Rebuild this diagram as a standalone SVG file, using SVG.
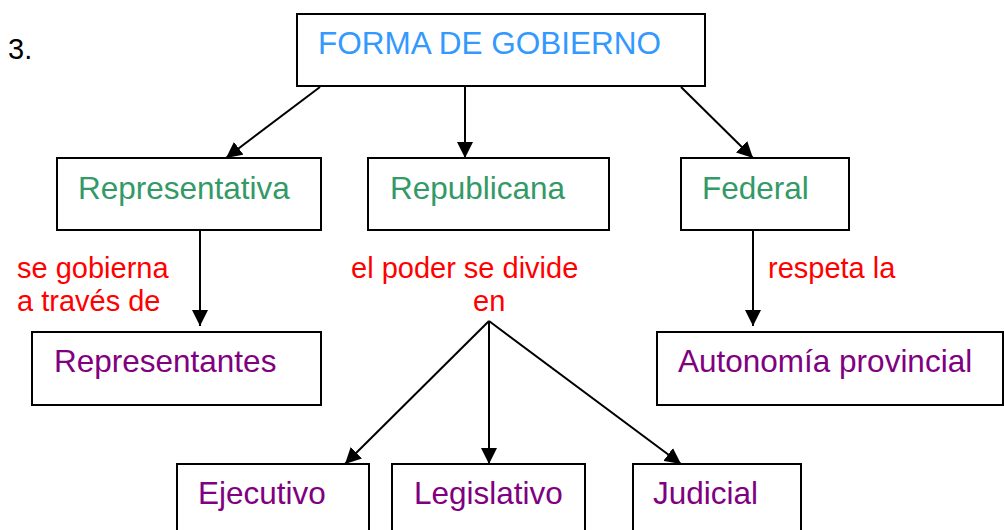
<svg xmlns="http://www.w3.org/2000/svg" width="1004" height="530" viewBox="0 0 1004 530">
<defs>
<style>
.box{fill:#fff;stroke:#000;stroke-width:2}
.t{font-family:"Liberation Sans",Arial,sans-serif;font-size:31.5px}
.blue{fill:#3399FF}
.green{fill:#339966}
.purple{fill:#800080}
.lbl{font-family:"Liberation Sans",Arial,sans-serif;font-size:29px;fill:#FF0000}
.c{fill:none;stroke:#000;stroke-width:2}
</style>
<marker id="ah" viewBox="0 0 16 16" refX="16" refY="8" markerWidth="16" markerHeight="16" markerUnits="userSpaceOnUse" orient="auto">
<path d="M0,0 L16,8 L0,16 Z" fill="#000"/>
</marker>
</defs>
<rect width="1004" height="530" fill="#fff"/>
<text x="8" y="59" style="font-family:'Liberation Sans',Arial,sans-serif;font-size:29px" fill="#000">3.</text>

<g id="connectors">
<line class="c" x1="320" y1="87" x2="226" y2="158" marker-end="url(#ah)"/>
<line class="c" x1="465" y1="87" x2="465" y2="158" marker-end="url(#ah)"/>
<line class="c" x1="681" y1="87" x2="753" y2="158" marker-end="url(#ah)"/>
<line class="c" x1="200" y1="231" x2="200" y2="326" marker-end="url(#ah)"/>
<line class="c" x1="753" y1="231" x2="753" y2="326" marker-end="url(#ah)"/>
<line class="c" x1="489" y1="321" x2="345" y2="464" marker-end="url(#ah)"/>
<line class="c" x1="489" y1="321" x2="489" y2="464" marker-end="url(#ah)"/>
<line class="c" x1="489" y1="321" x2="681" y2="464" marker-end="url(#ah)"/>
<text class="lbl" x="17" y="278">se gobierna</text>
<text class="lbl" x="17" y="311">a través de</text>
<text class="lbl" x="351" y="278">el poder se divide</text>
<text class="lbl" x="473" y="311">en</text>
<text class="lbl" x="768" y="278">respeta la</text>
</g>

<g id="n-forma">
<rect class="box" x="297" y="14" width="408" height="72"/>
<text class="t blue" x="318" y="54">FORMA DE GOBIERNO</text>
</g>
<g id="n-representativa">
<rect class="box" x="57" y="158" width="264" height="72"/>
<text class="t green" x="78" y="199">Representativa</text>
</g>
<g id="n-republicana">
<rect class="box" x="368" y="158" width="241" height="72"/>
<text class="t green" x="390" y="199">Republicana</text>
</g>
<g id="n-federal">
<rect class="box" x="681" y="158" width="168" height="72"/>
<text class="t green" x="702" y="199">Federal</text>
</g>
<g id="n-representantes">
<rect class="box" x="32" y="332" width="289" height="73"/>
<text class="t purple" x="54" y="372">Representantes</text>
</g>
<g id="n-autonomia">
<rect class="box" x="657" y="332" width="346" height="73"/>
<text class="t purple" x="678" y="372">Autonomía provincial</text>
</g>
<g id="n-ejecutivo">
<rect class="box" x="177" y="464" width="192" height="80"/>
<text class="t purple" x="198" y="504">Ejecutivo</text>
</g>
<g id="n-legislativo">
<rect class="box" x="392" y="464" width="193" height="80"/>
<text class="t purple" x="414" y="504">Legislativo</text>
</g>
<g id="n-judicial">
<rect class="box" x="633" y="464" width="168" height="80"/>
<text class="t purple" x="653" y="504">Judicial</text>
</g>
</svg>
